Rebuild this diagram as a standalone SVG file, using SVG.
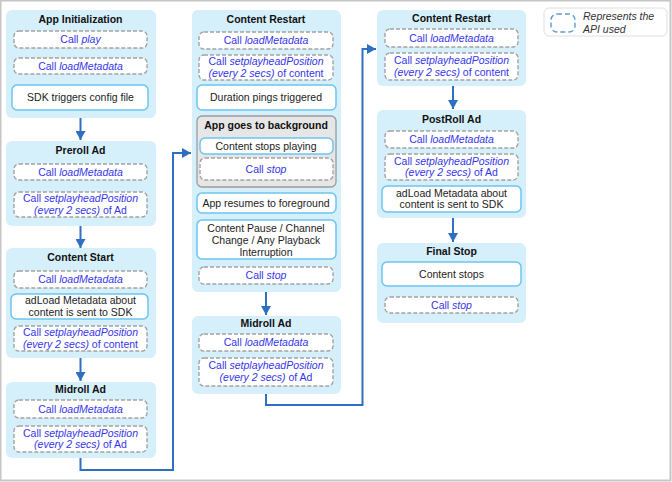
<svg xmlns="http://www.w3.org/2000/svg" width="672" height="482" viewBox="0 0 672 482">
<defs>
<style>
.panel{fill:#d5effb;stroke:none}
.dash{fill:#fff;stroke:#a3a3a3;stroke-width:1.4;stroke-dasharray:4 2}
.solid{fill:#fff;stroke:#6cc5f0;stroke-width:1.5}
.grey{fill:#e6e6e6;stroke:#9c9c9c;stroke-width:1.3}
text{font-family:"Liberation Sans",Arial,sans-serif;font-size:10.5px;text-anchor:middle;fill:#222}
.ttl{font-weight:bold;fill:#111}
.api{fill:#3535ea}
.i{font-style:italic}
.conn{fill:none;stroke:#2f6fc0;stroke-width:2}
.leg{text-anchor:start;font-style:italic;fill:#333}
</style>
<marker id="ah" markerUnits="userSpaceOnUse" markerWidth="10" markerHeight="10" refX="9" refY="5" orient="auto">
<path d="M0,0 L9,5 L0,10 z" fill="#2f6fc0"/>
</marker>
</defs>
<rect x="0.5" y="0.5" width="670" height="480" fill="#fff" stroke="#c6c6c6" stroke-width="2"/>

<g id="legend">
<rect x="544" y="8" width="123" height="28" rx="5" fill="#fff" stroke="#dedede"/>
<rect x="551" y="14" width="24" height="18" rx="6" fill="none" stroke="#5b9bd5" stroke-width="1.4" stroke-dasharray="5 3"/>
<text class="leg" x="583" y="19.5">Represents the</text>
<text class="leg" x="583" y="32.5">API used</text>
</g>

<g id="connectors">
<path class="conn" d="M80.5,118 V140" marker-end="url(#ah)"/>
<path class="conn" d="M80.5,226 V248" marker-end="url(#ah)"/>
<path class="conn" d="M80.5,358 V381" marker-end="url(#ah)"/>
<path class="conn" d="M80.5,458 V470 H173 V153 H191" marker-end="url(#ah)"/>
<path class="conn" d="M266,292 V315" marker-end="url(#ah)"/>
<path class="conn" d="M266,394 V405 H362.5 V49 H376" marker-end="url(#ah)"/>
<path class="conn" d="M453,86 V109" marker-end="url(#ah)"/>
<path class="conn" d="M453,218 V242" marker-end="url(#ah)"/>
</g>

<g id="app-initialization">
<rect class="panel" x="6" y="10" width="150" height="108" rx="6"/>
<text class="ttl" x="80.5" y="23">App Initialization</text>
<rect class="dash" x="14" y="31" width="133" height="17" rx="5"/>
<text class="api" x="80.5" y="43">Call <tspan class="i">play</tspan></text>
<rect class="dash" x="14" y="58" width="133" height="16" rx="5"/>
<text class="api" x="80.5" y="69.7">Call <tspan class="i">loadMetadata</tspan></text>
<rect class="solid" x="12" y="85" width="136" height="25" rx="5"/>
<text x="80.5" y="101">SDK triggers config file</text>
</g>

<g id="preroll-ad">
<rect class="panel" x="6" y="141" width="150" height="85" rx="6"/>
<text class="ttl" x="80.5" y="154">Preroll Ad</text>
<rect class="dash" x="14" y="164" width="133" height="16" rx="5"/>
<text class="api" x="80.5" y="175.7">Call <tspan class="i">loadMetadata</tspan></text>
<rect class="dash" x="14" y="192" width="133" height="25" rx="5"/>
<text class="api" x="80.5" y="202">Call <tspan class="i">setplayheadPosition</tspan></text>
<text class="api" x="80.5" y="213.5"><tspan class="i">(every 2 secs)</tspan> of Ad</text>
</g>

<g id="content-start">
<rect class="panel" x="6" y="248" width="150" height="110" rx="6"/>
<text class="ttl" x="80.5" y="261">Content Start</text>
<rect class="dash" x="14" y="271" width="133" height="17" rx="5"/>
<text class="api" x="80.5" y="283">Call <tspan class="i">loadMetadata</tspan></text>
<rect class="solid" x="11" y="294" width="137" height="25" rx="5"/>
<text x="80.5" y="304">adLoad Metadata about</text>
<text x="80.5" y="315.5">content is sent to SDK</text>
<rect class="dash" x="14" y="326" width="133" height="25" rx="5"/>
<text class="api" x="80.5" y="336">Call <tspan class="i">setplayheadPosition</tspan></text>
<text class="api" x="80.5" y="347.5"><tspan class="i">(every 2 secs)</tspan> of content</text>
</g>

<g id="midroll-ad-1">
<rect class="panel" x="6" y="382" width="150" height="76" rx="6"/>
<text class="ttl" x="80.5" y="393">Midroll Ad</text>
<rect class="dash" x="14" y="400" width="133" height="18" rx="5"/>
<text class="api" x="80.5" y="412.7">Call <tspan class="i">loadMetadata</tspan></text>
<rect class="dash" x="14" y="426" width="133" height="26" rx="5"/>
<text class="api" x="80.5" y="436.5">Call <tspan class="i">setplayheadPosition</tspan></text>
<text class="api" x="80.5" y="448"><tspan class="i">(every 2 secs)</tspan> of Ad</text>
</g>

<g id="content-restart-1">
<rect class="panel" x="192" y="10" width="149" height="282" rx="6"/>
<text class="ttl" x="266" y="23">Content Restart</text>
<rect class="dash" x="199" y="32" width="134" height="17" rx="5"/>
<text class="api" x="266" y="44">Call <tspan class="i">loadMetadata</tspan></text>
<rect class="dash" x="199" y="55" width="134" height="25" rx="5"/>
<text class="api" x="266" y="65">Call <tspan class="i">setplayheadPosition</tspan></text>
<text class="api" x="266" y="76.5"><tspan class="i">(every 2 secs)</tspan> of content</text>
<rect class="solid" x="197" y="85" width="139" height="25" rx="5"/>
<text x="266" y="101">Duration pings triggered</text>
<g id="app-background">
<rect class="grey" x="197" y="116" width="139" height="71" rx="5"/>
<text class="ttl" x="266" y="129">App goes to background</text>
<rect class="solid" x="200" y="138" width="133" height="16" rx="5"/>
<text x="266" y="149.7">Content stops playing</text>
<rect class="dash" x="200" y="158" width="133" height="22" rx="5"/>
<text class="api" x="266" y="172.7">Call <tspan class="i">stop</tspan></text>
</g>
<rect class="solid" x="197" y="193" width="139" height="20" rx="5"/>
<text x="266" y="206.7">App resumes to foreground</text>
<rect class="solid" x="197" y="220" width="139" height="39" rx="5"/>
<text x="266" y="231.5">Content Pause / Channel</text>
<text x="266" y="243.5">Change / Any Playback</text>
<text x="266" y="255.5">Interruption</text>
<rect class="dash" x="199" y="267" width="134" height="17" rx="5"/>
<text class="api" x="266" y="279">Call <tspan class="i">stop</tspan></text>
</g>

<g id="midroll-ad-2">
<rect class="panel" x="192" y="316" width="149" height="78" rx="6"/>
<text class="ttl" x="266" y="327">Midroll Ad</text>
<rect class="dash" x="199" y="334" width="134" height="17" rx="5"/>
<text class="api" x="266" y="346">Call <tspan class="i">loadMetadata</tspan></text>
<rect class="dash" x="199" y="358" width="134" height="28" rx="5"/>
<text class="api" x="266" y="369">Call <tspan class="i">setplayheadPosition</tspan></text>
<text class="api" x="266" y="381"><tspan class="i">(every 2 secs)</tspan> of Ad</text>
</g>

<g id="content-restart-2">
<rect class="panel" x="377" y="10" width="149" height="76" rx="6"/>
<text class="ttl" x="451.5" y="22">Content Restart</text>
<rect class="dash" x="385" y="29" width="133" height="18" rx="5"/>
<text class="api" x="451.5" y="41.7">Call <tspan class="i">loadMetadata</tspan></text>
<rect class="dash" x="385" y="53" width="133" height="27" rx="5"/>
<text class="api" x="451.5" y="64">Call <tspan class="i">setplayheadPosition</tspan></text>
<text class="api" x="451.5" y="75.5"><tspan class="i">(every 2 secs)</tspan> of content</text>
</g>

<g id="postroll-ad">
<rect class="panel" x="377" y="110" width="149" height="108" rx="6"/>
<text class="ttl" x="451.5" y="123">PostRoll Ad</text>
<rect class="dash" x="385" y="131" width="133" height="17" rx="5"/>
<text class="api" x="451.5" y="143">Call <tspan class="i">loadMetadata</tspan></text>
<rect class="dash" x="385" y="154" width="133" height="26" rx="5"/>
<text class="api" x="451.5" y="164.5">Call <tspan class="i">setplayheadPosition</tspan></text>
<text class="api" x="451.5" y="176"><tspan class="i">(every 2 secs)</tspan> of Ad</text>
<rect class="solid" x="382" y="186" width="139" height="26" rx="5"/>
<text x="451.5" y="196.5">adLoad Metadata about</text>
<text x="451.5" y="208">content is sent to SDK</text>
</g>

<g id="final-stop">
<rect class="panel" x="377" y="243" width="149" height="80" rx="6"/>
<text class="ttl" x="451.5" y="255">Final Stop</text>
<rect class="solid" x="382" y="262" width="139" height="24" rx="5"/>
<text x="451.5" y="277.7">Content stops</text>
<rect class="dash" x="385" y="297" width="133" height="16" rx="5"/>
<text class="api" x="451.5" y="308.7">Call <tspan class="i">stop</tspan></text>
</g>
</svg>
